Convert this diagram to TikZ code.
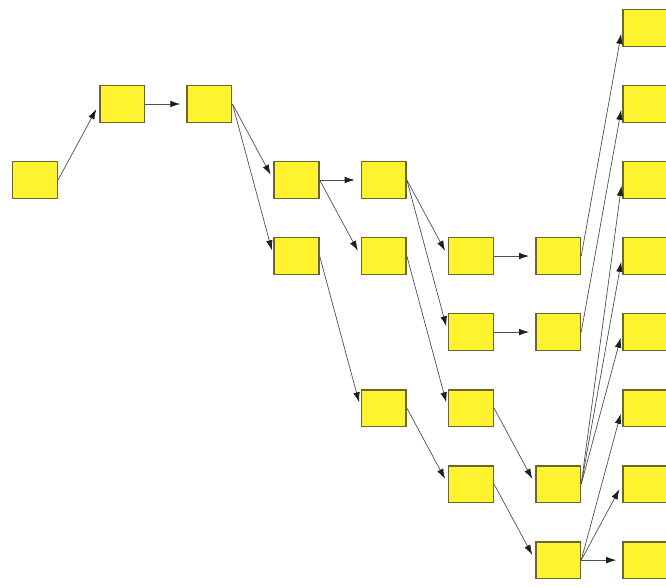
\documentclass[tikz,border=0pt]{standalone}
\usetikzlibrary{arrows.meta, positioning}
\definecolor{BoxFill}{HTML}{FFF22E}
\definecolor{BoxEdge}{HTML}{6B6630}
\definecolor{Wire}{HTML}{505050}
\definecolor{TipDark}{HTML}{1E1E1E}

\begin{document}
\begin{tikzpicture}[
          tbox/.style={rectangle, draw=BoxEdge, fill=BoxFill, line width=1.3pt,
                        minimum width=1.34cm, minimum height=1.1cm, inner sep=0pt},
          arr/.style={-{Latex[length=3mm, width=2mm, color=TipDark]}, line width=0.6pt,
                        color=Wire, shorten >=1.8mm},
          node distance=1.135cm and 1.23cm
        ]
          \useasboundingbox (0,0) rectangle (19.98,-17.58);
          % left part of the tree
          \node[tbox] (a) at (1.05,-5.4) {};
          \node[tbox, above right=of a] (b) {};
          \node[tbox, right=of b] (c) {};
          \node[tbox, below right=of c] (d) {};
          \node[tbox, below=of d] (e) {};
          \node[tbox, right=of d] (f) {};
          \node[tbox, below=of f] (g) {};
          \node[tbox, below right=of f] (h) {};
          \node[tbox, below=of h] (j) {};
          \node[tbox, right=of h] (i) {};
          \node[tbox, right=of j] (k) {};
          \node[tbox, below=of j] (m) {};
          \node[tbox, left=of m] (l) {};
          \node[tbox, below=of m] (n) {};
          \node[tbox, right=of n] (o) {};
          \node[tbox, below=of o] (p) {};
          % right column
          \node[tbox, right=of i] (r3) {};
          \node[tbox, right=of k] (r4) {};
          \node[tbox, above=of r3] (r2) {};
          \node[tbox, above=of r2] (r1) {};
          \node[tbox, above=of r1] (r0) {};
          \node[tbox, below=of r4] (r5) {};
          \node[tbox, below=of r5] (r6) {};
          \node[tbox, below=of r6] (r7) {};
          % connectors
          \draw[arr] (a.east)--(b.west); \draw[arr] (b.east)--(c.west);
          \draw[arr] (c.east)--(d.west); \draw[arr] (c.east)--(e.west);
          \draw[arr] (d.east)--(f.west); \draw[arr] (d.east)--(g.west);
          \draw[arr] (e.east)--(l.west);
          \draw[arr] (f.east)--(h.west); \draw[arr] (f.east)--(j.west);
          \draw[arr] (g.east)--(m.west);
          \draw[arr] (h.east)--(i.west); \draw[arr] (j.east)--(k.west);
          \draw[arr] (l.east)--(n.west); \draw[arr] (m.east)--(o.west);
          \draw[arr] (n.east)--(p.west);
          \draw[arr] (i.east)--(r0.west); \draw[arr] (k.east)--(r1.west);
          \draw[arr] (o.east)--(r2.west); \draw[arr] (o.east)--(r3.west);
          \draw[arr] (o.east)--(r4.west);
          \draw[arr] (p.east)--(r5.west); \draw[arr] (p.east)--(r6.west);
          \draw[arr] (p.east)--(r7.west);
        \end{tikzpicture}
\end{document}
